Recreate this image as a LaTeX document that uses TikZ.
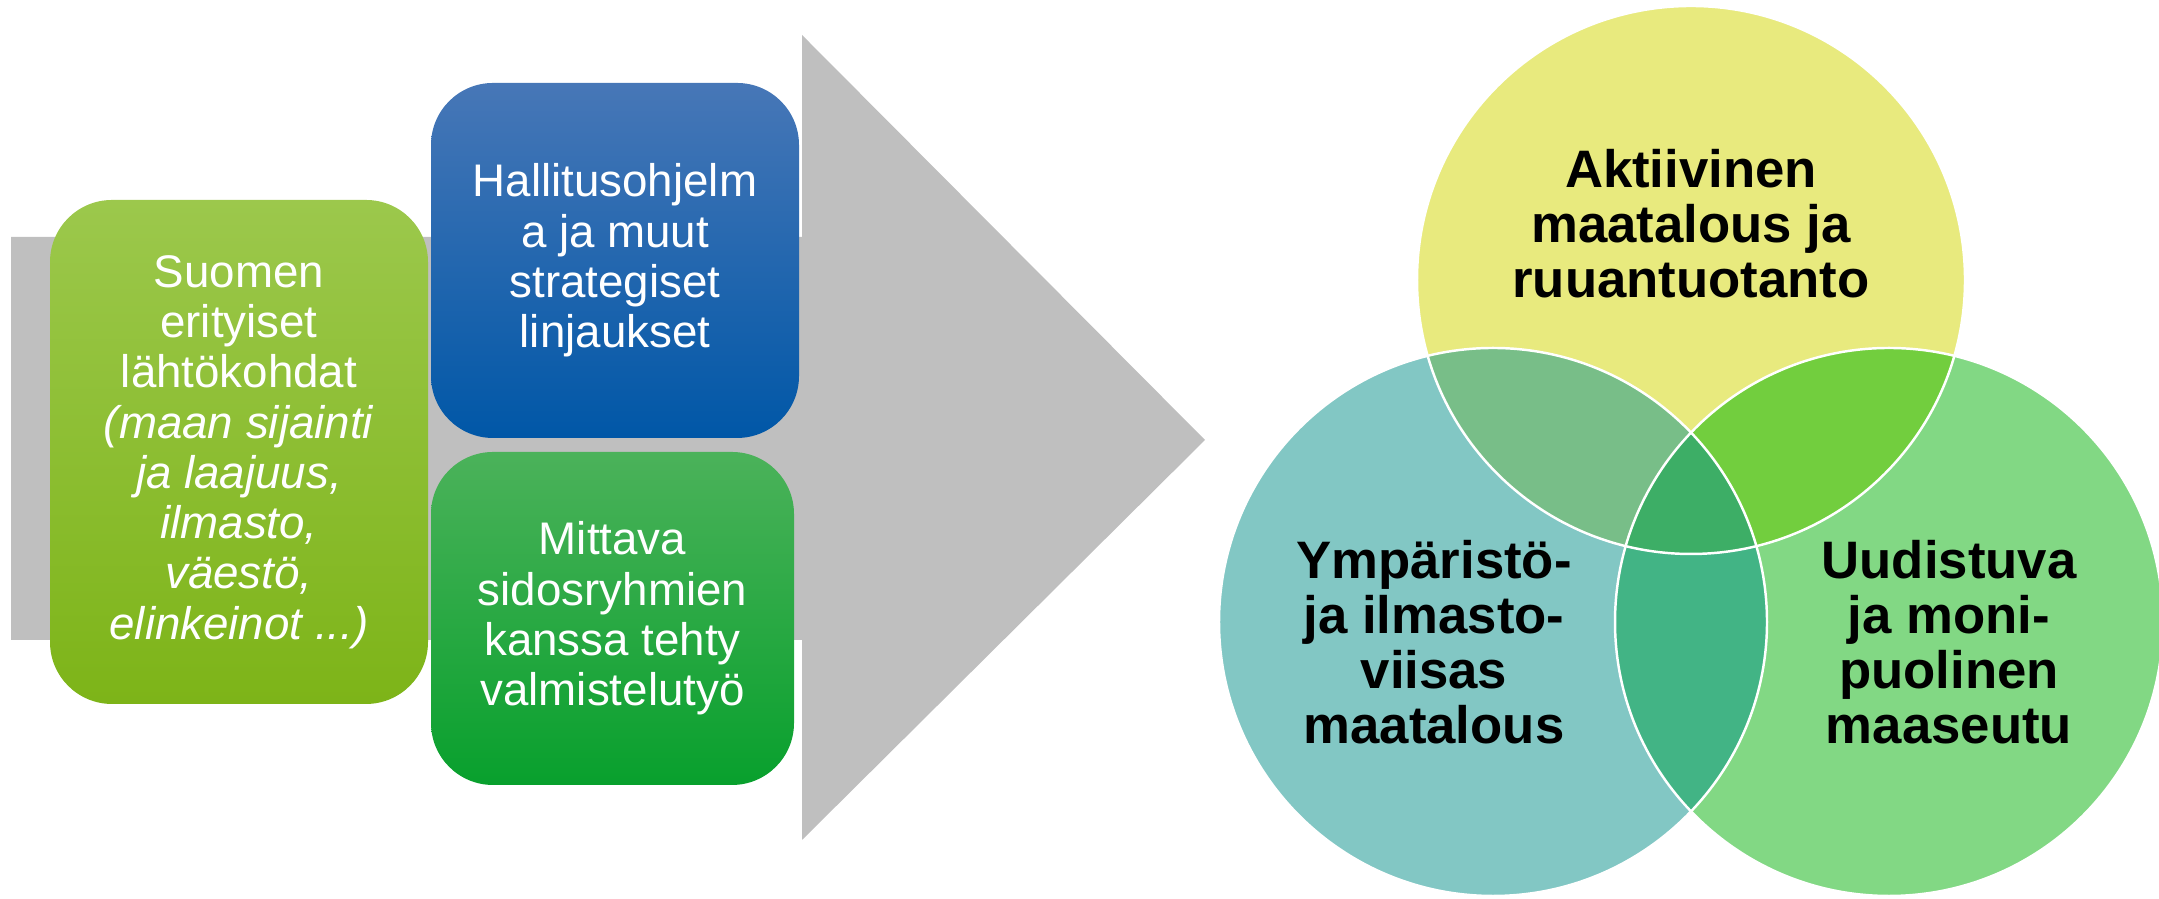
\documentclass[tikz,border=0pt]{standalone}
\usepackage{fontspec}
\setmainfont{Liberation Sans}
\usepackage{tikz}

\definecolor{arrowgray}{HTML}{BFBFBF}
\definecolor{startA}{HTML}{9CC84C}
\definecolor{startB}{HTML}{7DB418}
\definecolor{progA}{HTML}{4777B7}
\definecolor{progB}{HTML}{0057A7}
\definecolor{prepA}{HTML}{4BB25A}
\definecolor{prepB}{HTML}{08A02D}
\definecolor{vennY}{HTML}{E8EA7E}
\definecolor{vennT}{HTML}{82C7C4}
\definecolor{vennG}{HTML}{82D884}
\definecolor{vennYT}{HTML}{78BE88}
\definecolor{vennYG}{HTML}{72CE3E}
\definecolor{vennTG}{HTML}{42B485}
\definecolor{vennAll}{HTML}{3DAE66}

\begin{document}
\begin{tikzpicture}[
	box/.style={rounded corners=0.62cm, inner sep=0pt, align=center, text=white,
		font=\fontsize{13}{14.3}\selectfont},
	venn/.style={circle, minimum size=5.48cm, inner sep=0pt},
	vtext/.style={inner sep=0pt, align=center, text=black,
		font=\fontsize{15}{15.6}\selectfont\bfseries}
]
	\useasboundingbox (0,0) rectangle (21.59,8.99);
	% big grey arrow behind the boxes
	\fill [arrowgray] (0.11,2.59) -- (8.02,2.59) -- (8.02,0.59) -- (12.05,4.59)
		-- (8.02,8.64) -- (8.02,6.62) -- (0.11,6.62) -- cycle;
	% boxes
	\node [box, minimum width=3.78cm, minimum height=5.04cm, top color=startA, bottom color=startB]
		(start) at (2.39,4.47) {Suomen\\erityiset\\lähtökohdat\\\textit{(maan sijainti}\\\textit{ja laajuus,}\\\textit{ilmasto,}\\\textit{väestö,}\\\textit{elinkeinot ...)}};
	\node [box, minimum width=3.68cm, minimum height=3.55cm, top color=progA, bottom color=progB]
		(prog) at (6.15,6.385) {Hallitusohjelm\\a ja muut\\strategiset\\linjaukset};
	\node [box, minimum width=3.63cm, minimum height=3.33cm, top color=prepA, bottom color=prepB]
		(prep) at (6.125,2.805) {Mittava\\sidosryhmien\\kanssa tehty\\valmistelutyö};
	% venn circles
	\node [venn, fill=vennY] (ruoka) at (16.91,6.19) {};
	\node [venn, fill=vennT] (ymp) at (14.93,2.77) {};
	\node [venn, fill=vennG] (maaseutu) at (18.89,2.77) {};
	\begin{scope}
		\clip (ruoka.center) circle (2.74);
		\fill [vennYT] (ymp.center) circle (2.74);
		\fill [vennYG] (maaseutu.center) circle (2.74);
	\end{scope}
	\begin{scope}
		\clip (ymp.center) circle (2.74);
		\fill [vennTG] (maaseutu.center) circle (2.74);
		\clip (maaseutu.center) circle (2.74);
		\fill [vennAll] (ruoka.center) circle (2.74);
	\end{scope}
	\draw [white, line width=0.7pt] (ruoka.center) circle (2.74);
	\draw [white, line width=0.7pt] (ymp.center) circle (2.74);
	\draw [white, line width=0.7pt] (maaseutu.center) circle (2.74);
	% circle texts
	\node [vtext] (ruokat) at (16.91,6.75) {Aktiivinen\\maatalous ja\\ruuantuotanto};
	\node [vtext] (ympt) at (14.34,2.57) {Ympäristö-\\ja ilmasto-\\viisas\\maatalous};
	\node [vtext] (maaseutut) at (19.49,2.57) {Uudistuva\\ja moni-\\puolinen\\maaseutu};
\end{tikzpicture}
\end{document}
